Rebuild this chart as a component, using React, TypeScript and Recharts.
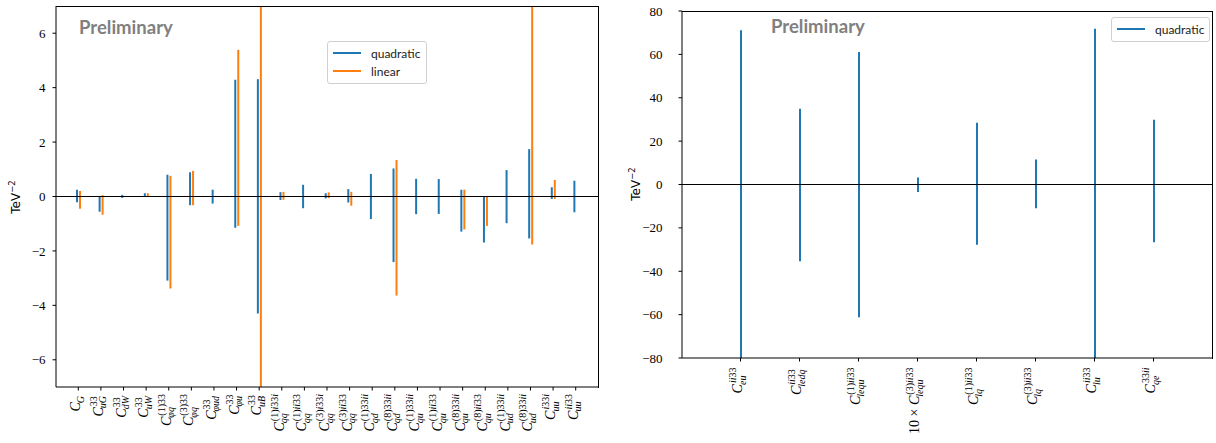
import React from 'react';
import { BarChart, Bar, XAxis, YAxis, ReferenceLine, Legend, Customized } from 'recharts';

const BLUE = '#1f77b4';
const ORANGE = '#ff7f0e';
const SERIF = '"Liberation Serif", serif';
const SANS = '"DejaVu Sans", sans-serif';

// left panel: 23 operators, bounds in TeV^-2
const leftTicks = [
    'C_{G}', 'C^{33}_{uG}', 'C^{33}_{dW}', 'C^{33}_{uW}', 'C^{(1)33}_{φq}', 'C^{(3)33}_{φq}',
    'C^{33}_{φud}', 'C^{33}_{φu}', 'C^{33}_{uB}', 'C^{(1)i33i}_{qq}', 'C^{(1)ii33}_{qq}',
    'C^{(3)i33i}_{qq}', 'C^{(3)ii33}_{qq}', 'C^{(1)33ii}_{qd}', 'C^{(8)33ii}_{qd}',
    'C^{(1)33ii}_{qu}', 'C^{(1)ii33}_{qu}', 'C^{(8)33ii}_{qu}', 'C^{(8)ii33}_{qu}',
    'C^{(1)33ii}_{ud}', 'C^{(8)33ii}_{ud}', 'C^{i33i}_{uu}', 'C^{ii33}_{uu}',
];
const quadLo = [-0.21, -0.56, -0.05, 0, -3.09, -0.32, -0.26, -1.15, -4.3, -0.13, -0.43, -0.07, -0.22, -0.83, -2.41, -0.65, -0.64, -1.29, -1.69, -0.98, -1.54, -0.09, -0.58];
const quadHi = [0.25, 0.02, 0.06, 0.12, 0.8, 0.89, 0.25, 4.29, 4.31, 0.16, 0.43, 0.12, 0.27, 0.83, 1.03, 0.65, 0.64, 0.25, 0, 0.97, 1.74, 0.34, 0.58];
const linLo = [-0.45, -0.67, -0.02, 0, -3.38, -0.32, -0.02, -1.08, -12, -0.12, -0.02, -0.06, -0.34, -0.02, -3.64, -0.02, -0.02, -1.21, -1.08, -0.02, -1.76, -0.09, -0.02];
const linHi = [0.2, 0.05, 0.02, 0.12, 0.76, 0.94, 0.02, 5.39, 12, 0.17, 0.02, 0.15, 0.17, 0.02, 1.34, 0.02, 0.02, 0.25, 0, 0.02, 12, 0.61, 0.02];
const leftYTicks = [-6, -4, -2, 0, 2, 4, 6];

// right panel: four-fermion operators with leptons
const rightTicks = [
    'C^{ii33}_{eu}', 'C^{ii33}_{ledq}', 'C^{(1)ii33}_{lequ}', '10 × C^{(3)ii33}_{lequ}',
    'C^{(1)ii33}_{lq}', 'C^{(3)ii33}_{lq}', 'C^{ii33}_{lu}', 'C^{33ii}_{qe}',
];
const rightLo = [-85, -35.4, -61.2, -3.5, -27.8, -10.9, -85, -26.6];
const rightHi = [71.1, 34.9, 61.1, 3.2, 28.5, 11.5, 71.8, 29.8];
const rightYTicks = [-80, -60, -40, -20, 0, 20, 40, 60, 80];

const seriesOrder = ['quadratic', 'linear'];

const leftData = leftTicks.map((name, i) => ({
    name,
    quadratic: [quadLo[i], quadHi[i]],
    linear: [linLo[i], linHi[i]],
}));
const rightData = rightTicks.map((name, i) => ({ name, quadratic: [rightLo[i], rightHi[i]] }));

const minus = (v: number) => (v < 0 ? `\u2212${-v}` : `${v}`);

let ctx: CanvasRenderingContext2D | null = null;
function textWidth(s: string, font: string) {
    if (!ctx) ctx = document.createElement('canvas').getContext('2d');
    if (!ctx) return s.length * 6;
    ctx.font = font;
    return ctx.measureText(s).width;
}

const C_SIZE = 14;
const S_SIZE = 10;

// split a script into upright digits/brackets and italic letters
function pieces(s: string) {
    const out: { t: string; it: boolean }[] = [];
    for (const ch of s) {
        const it = /[a-zA-Zφ]/.test(ch);
        const last = out[out.length - 1];
        if (last && last.it === it) last.t += ch;
        else out.push({ t: ch, it });
    }
    return out;
}
function scriptWidth(s: string) {
    return pieces(s).reduce((w, p) => w + textWidth(p.t, `${p.it ? 'italic ' : ''}${S_SIZE}px ${SERIF}`), 0);
}

function parse(label: string) {
    const m = label.match(/^(.*?)C(?:\^\{([^}]*)\})?(?:_\{([^}]*)\})?$/);
    return { pre: m?.[1] ?? '', sup: m?.[2] ?? '', sub: m?.[3] ?? '' };
}

function Script({ x, y, s }: { x: number; y: number; s: string }) {
    return (
        <text x={x} y={y} fontFamily={SERIF} fontSize={S_SIZE} fill="#000">
            {pieces(s).map((p, i) => (
                <tspan key={i} fontStyle={p.it ? 'italic' : 'normal'}>{p.t}</tspan>
            ))}
        </text>
    );
}

function MathTick(props: any) {
    const { x, y, payload, pad, base } = props;
    const { pre, sup, sub } = parse(String(payload.value));
    const preW = pre ? textWidth(pre, `${C_SIZE}px ${SERIF}`) : 0;
    const cW = textWidth('C', `italic ${C_SIZE}px ${SERIF}`);
    const total = preW + cW + 1 + Math.max(scriptWidth(sup), scriptWidth(sub));
    const x0 = -pad - total;
    return (
        <g transform={`translate(${x},${y}) rotate(-90)`}>
            {pre && (
                <text x={x0} y={base} fontFamily={SERIF} fontSize={C_SIZE} fill="#000">{pre}</text>
            )}
            <text x={x0 + preW} y={base} fontFamily={SERIF} fontStyle="italic" fontSize={C_SIZE} fill="#000">C</text>
            {sup && <Script x={x0 + preW + cW + 1} y={base - 6} s={sup} />}
            {sub && <Script x={x0 + preW + cW - 1} y={base + 3.5} s={sub} />}
        </g>
    );
}

function LegendBox({ payload }: any) {
    const items = [...(payload ?? [])].sort(
        (a: any, b: any) => seriesOrder.indexOf(a.value) - seriesOrder.indexOf(b.value),
    );
    return (
        <div style={{
            border: '1px solid #d0d0d0', borderRadius: 3, background: 'rgba(255,255,255,0.8)',
            padding: '2px 0 3px 5px', fontFamily: 'Lato, sans-serif', fontSize: 12, color: '#222',
            boxSizing: 'border-box',
        }}>
            {items.map((p: any) => (
                <div key={p.value} style={{ display: 'flex', alignItems: 'center', height: 18 }}>
                    <svg width={28} height={4} style={{ marginRight: 10 }}>
                        <line x1={0} y1={2} x2={28} y2={2} stroke={p.color} strokeWidth={2} />
                    </svg>
                    <span>{p.value}</span>
                </div>
            ))}
        </div>
    );
}

function Overlay({ prelimX, prelimY, labelX, labelY }: { prelimX: number; prelimY: number; labelX: number; labelY: number }) {
    return (
        <g>
            <text x={prelimX} y={prelimY} fontFamily="Lato, sans-serif" fontWeight={700} fontSize={18.5} fill="#808080">
                Preliminary
            </text>
            <text
                transform={`translate(${labelX},${labelY}) rotate(-90)`}
                textAnchor="middle" fontFamily={SANS} fontSize={12} fill="#000"
            >
                TeV<tspan dy={-5} fontSize={8.5}>{'\u22122'}</tspan>
            </text>
        </g>
    );
}

// top and right spines of the axes box
function Frame({ left, top, width, height }: { left: number; top: number; width: number; height: number }) {
    return (
        <div style={{
            position: 'absolute', left, top, width, height, boxSizing: 'border-box',
            borderTop: '1px solid #000', borderRight: '1px solid #000', pointerEvents: 'none',
        }} />
    );
}

const axisLine = { stroke: '#000', strokeWidth: 1 };
const yTick = { fill: '#000', fontFamily: SERIF, fontSize: 13 };

export default function App() {
    return (
        <div style={{ position: 'absolute', left: 0, top: 0, width: 1216, height: 443, background: '#fff' }}>
            <div style={{ position: 'absolute', left: 0, top: 0 }}>
                <BarChart width={620} height={443} data={leftData} margin={{ top: 6, right: 22, bottom: 0, left: 0 }} barSize={2} barGap={1}>
                    <XAxis
                        dataKey="name" interval={0} height={56} padding={{ left: 11, right: 11 }}
                        axisLine={axisLine} tickLine={axisLine} tickSize={3.5} tickMargin={2}
                        tick={(p: any) => <MathTick {...p} pad={1.5} base={2} />}
                    />
                    <YAxis
                        domain={[-7, 7]} ticks={leftYTicks} allowDataOverflow width={56} interval={0}
                        axisLine={axisLine} tickLine={axisLine} tickSize={3.5} tickMargin={7}
                        tick={yTick} tickFormatter={minus}
                    />
                    <Bar dataKey="quadratic" name="quadratic" fill={BLUE} isAnimationActive={false} />
                    <Bar dataKey="linear" name="linear" fill={ORANGE} isAnimationActive={false} />
                    <ReferenceLine y={0} stroke="#000" strokeWidth={1} />
                    <Legend
                        layout="vertical" align="center" verticalAlign="middle"
                        wrapperStyle={{ left: 327, top: 41, width: 100 }}
                        content={(p: any) => <LegendBox payload={p.payload} />}
                    />
                    <Customized component={() => <Overlay prelimX={79} prelimY={34} labelX={20} labelY={197} />} />
                </BarChart>
                <Frame left={56} top={5.5} width={542.5} height={382} />
            </div>
            <div style={{ position: 'absolute', left: 620, top: 0 }}>
                <BarChart width={596} height={443} data={rightData} margin={{ top: 11, right: 4, bottom: 0, left: 0 }} barSize={2}>
                    <XAxis
                        dataKey="name" interval={0} height={85} padding={{ left: 29, right: 29 }}
                        axisLine={axisLine} tickLine={axisLine} tickSize={3.5} tickMargin={2}
                        tick={(p: any) => <MathTick {...p} pad={4} base={1.5} />}
                    />
                    <YAxis
                        domain={[-80, 80]} ticks={rightYTicks} allowDataOverflow width={62} interval={0}
                        axisLine={axisLine} tickLine={axisLine} tickSize={3.5} tickMargin={16}
                        tick={yTick} tickFormatter={minus}
                    />
                    <Bar dataKey="quadratic" name="quadratic" fill={BLUE} isAnimationActive={false} />
                    <ReferenceLine y={0} stroke="#000" strokeWidth={1} />
                    <Legend
                        layout="vertical" align="center" verticalAlign="middle"
                        wrapperStyle={{ left: 491, top: 17, width: 99 }}
                        content={(p: any) => <LegendBox payload={p.payload} />}
                    />
                    <Customized component={() => <Overlay prelimX={151} prelimY={33} labelX={20} labelY={184} />} />
                </BarChart>
                <Frame left={62} top={10.5} width={530.5} height={348} />
            </div>
        </div>
    );
}
